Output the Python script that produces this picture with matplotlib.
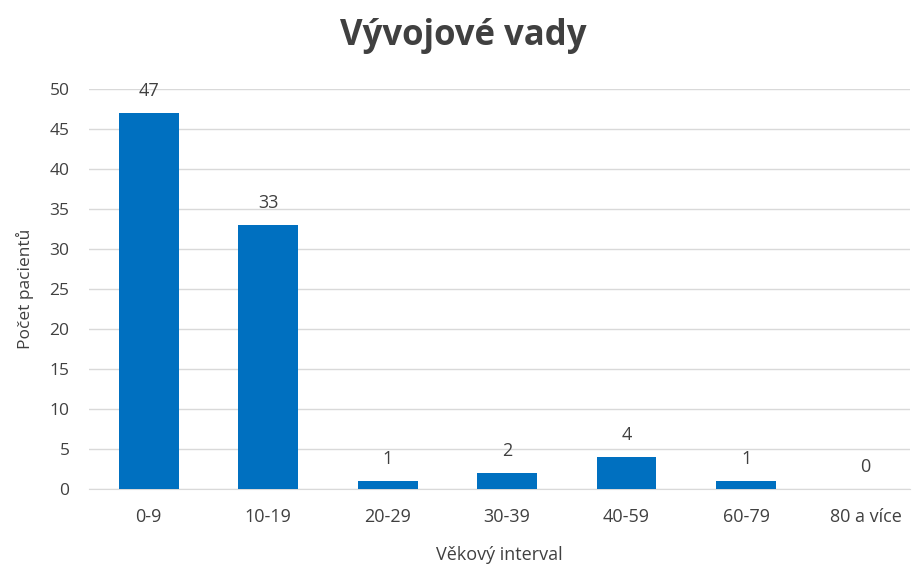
import matplotlib
matplotlib.use("Agg")
import matplotlib.pyplot as plt

categories = ["0-9", "10-19", "20-29", "30-39", "40-59", "60-79", "80 a více"]
counts = [47, 33, 1, 2, 4, 1, 0]

bar_color = "#0070C0"
text_color = "#404040"

plt.rcParams["font.family"] = ["Open Sans", "DejaVu Sans"]

fig = plt.figure(figsize=(9.18, 5.68), dpi=100)
ax = fig.add_axes([0.097, 0.139, 0.894, 0.704])

x = range(len(categories))
ax.bar(x, counts, width=0.5, color=bar_color, zorder=3)

# value labels above bars
for xi, v in zip(x, counts):
    ax.text(xi, v + 1.6, str(v), ha="center", va="bottom", fontsize=13, color=text_color)

ax.set_ylim(0, 50)
ax.set_xlim(-0.5, 6.37)
ax.set_yticks(range(0, 51, 5))
ax.set_xticks(list(x))
ax.set_xticklabels(categories)
ax.tick_params(axis="both", length=0, labelsize=13, labelcolor=text_color)
ax.tick_params(axis="x", pad=14)
ax.tick_params(axis="y", pad=14)
for lbl in ax.get_yticklabels():
    lbl.set_fontsize(12.5)

ax.grid(axis="y", color="#d9d9d9", linewidth=1, zorder=0)
for side in ["top", "right", "left"]:
    ax.spines[side].set_visible(False)
ax.spines["bottom"].set_color("#d9d9d9")

ax.set_ylabel("Počet pacientů", fontsize=12.5, color=text_color, labelpad=11)
ax.set_xlabel("Věkový interval", fontsize=13, color=text_color, labelpad=14)

fig.suptitle("Vývojové vady", fontsize=25, fontweight="bold", color=text_color, x=0.505, y=0.968)

fig.savefig("out.png", dpi=100)
